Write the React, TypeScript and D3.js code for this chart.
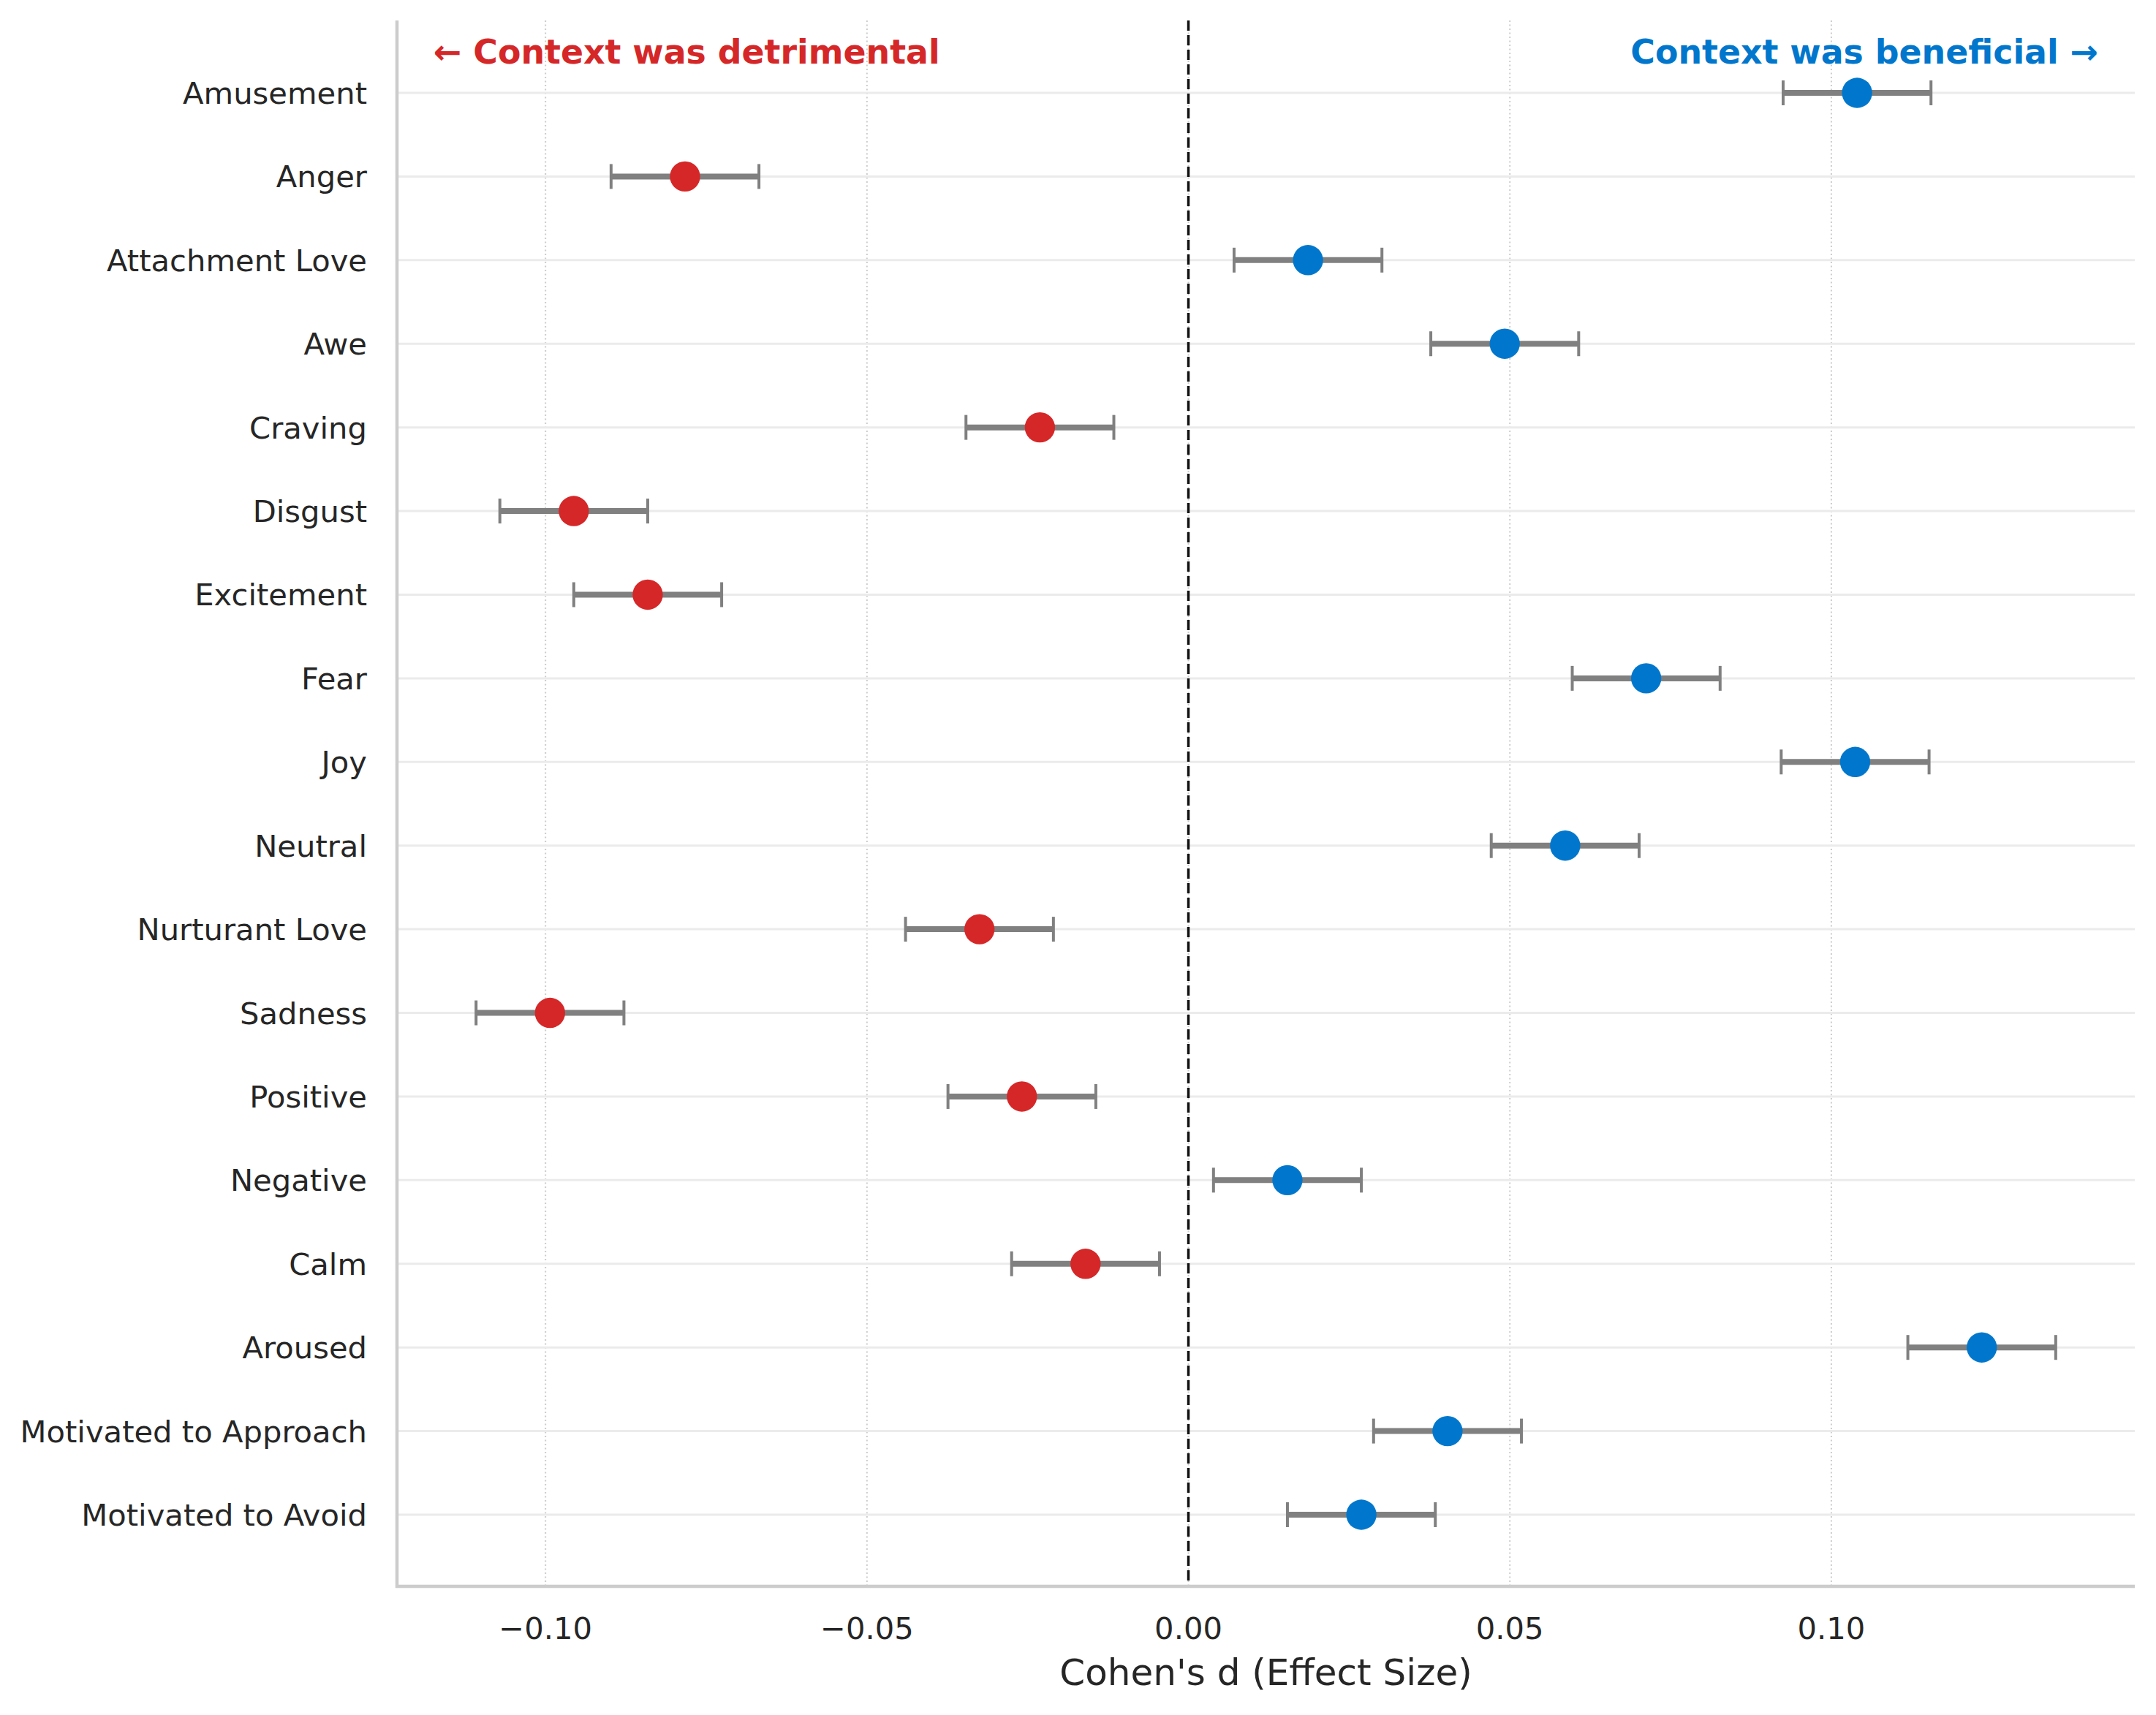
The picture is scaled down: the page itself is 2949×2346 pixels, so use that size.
import * as d3 from "d3";
import React from "react";

const emotions = [
  "Amusement",
  "Anger",
  "Attachment Love",
  "Awe",
  "Craving",
  "Disgust",
  "Excitement",
  "Fear",
  "Joy",
  "Neutral",
  "Nurturant Love",
  "Sadness",
  "Positive",
  "Negative",
  "Calm",
  "Aroused",
  "Motivated to Approach",
  "Motivated to Avoid",
];

const effectSizes = [
  0.104, -0.0783, 0.0186, 0.0492, -0.0231, -0.0956, -0.0841, 0.0712, 0.1037,
  0.0586, -0.0325, -0.0993, -0.0259, 0.0154, -0.016, 0.1234, 0.0403, 0.0269,
];

const errors = [
  0.0115, 0.0115, 0.0115, 0.0115, 0.0115, 0.0115, 0.0115, 0.0115, 0.0115,
  0.0115, 0.0115, 0.0115, 0.0115, 0.0115, 0.0115, 0.0115, 0.0115, 0.0115,
];

const xTicks = [-0.1, -0.05, 0, 0.05, 0.1];

const W = 2949;
const H = 2346;
const left = 543;
const right = 2920;
const top = 28;
const bottom = 2170;

const RED = "#d62728";
const BLUE = "#0077cc";
const FONT = "DejaVu Sans, sans-serif";

export default function App() {
  const x = d3.scaleLinear().domain([-0.1231, 0.1472]).range([left, right]);
  const y = d3.scalePoint<string>().domain(emotions).range([127, 2072]);
  const fmt = (v: number) => (v < 0 ? "\u2212" : "") + d3.format(".2f")(Math.abs(v));

  return (
    <svg
      width={W}
      height={H}
      style={{ position: "absolute", left: 0, top: 0, background: "#fff" }}
      fontFamily={FONT}
    >
      {/* vertical dotted grid */}
      {xTicks.map((t) => (
        <line
          key={"vg" + t}
          x1={x(t)}
          x2={x(t)}
          y1={top}
          y2={bottom}
          stroke="#cccccc"
          strokeWidth={2}
          strokeDasharray="2 3.5"
        />
      ))}
      {/* horizontal grid */}
      {emotions.map((e) => (
        <line
          key={"hg" + e}
          x1={left}
          x2={right}
          y1={y(e)}
          y2={y(e)}
          stroke="#ebebeb"
          strokeWidth={3}
        />
      ))}
      {/* zero line */}
      <line
        x1={x(0)}
        x2={x(0)}
        y1={top}
        y2={bottom}
        stroke="#111"
        strokeWidth={3.5}
        strokeDasharray="14 6"
      />
      {/* spines */}
      <line x1={left} x2={left} y1={top} y2={bottom + 2} stroke="#cccccc" strokeWidth={4.5} />
      <line x1={left - 2} x2={right} y1={bottom} y2={bottom} stroke="#cccccc" strokeWidth={4.5} />

      {/* error bars and points */}
      {emotions.map((e, i) => {
        const v = effectSizes[i];
        const err = errors[i];
        const cy = y(e) as number;
        const x0 = x(v - err);
        const x1 = x(v + err);
        return (
          <g key={"pt" + e}>
            <line x1={x0} x2={x1} y1={cy} y2={cy} stroke="#808080" strokeWidth={8} />
            <line x1={x0} x2={x0} y1={cy - 17} y2={cy + 17} stroke="#808080" strokeWidth={4} />
            <line x1={x1} x2={x1} y1={cy - 17} y2={cy + 17} stroke="#808080" strokeWidth={4} />
            <circle cx={x(v)} cy={cy} r={20.7} fill={v < 0 ? RED : BLUE} />
          </g>
        );
      })}

      {/* y tick labels */}
      {emotions.map((e) => (
        <text
          key={"yl" + e}
          x={502}
          y={y(e)}
          dy="0.36em"
          textAnchor="end"
          fontSize={41.7}
          fill="#262626"
        >
          {e}
        </text>
      ))}

      {/* x tick labels */}
      {xTicks.map((t) => (
        <text
          key={"xl" + t}
          x={x(t)}
          y={2242}
          textAnchor="middle"
          fontSize={41.7}
          fill="#262626"
        >
          {fmt(t)}
        </text>
      ))}

      <text
        x={(left + right) / 2}
        y={2305}
        textAnchor="middle"
        fontSize={50}
        fill="#262626"
      >
        Cohen's d (Effect Size)
      </text>

      <text x={593} y={87} fontSize={45.8} fontWeight="bold" fill={RED}>
        ← Context was detrimental
      </text>
      <text x={2870} y={87} textAnchor="end" fontSize={45.8} fontWeight="bold" fill={BLUE}>
        Context was beneficial →
      </text>
    </svg>
  );
}
